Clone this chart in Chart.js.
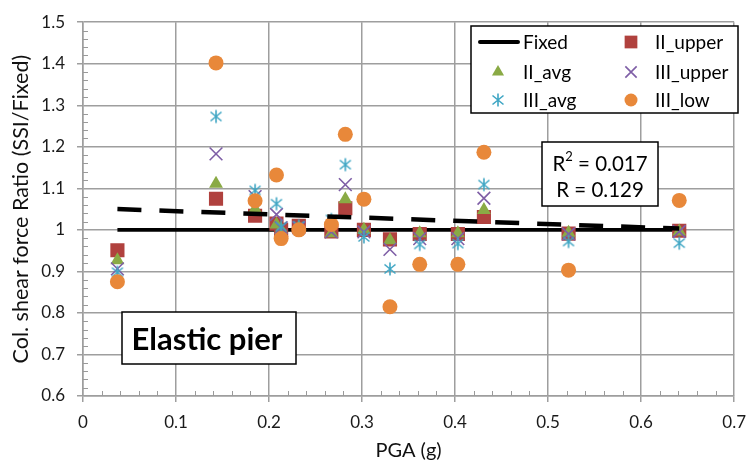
<!DOCTYPE html>
<html>
<head>
<meta charset="utf-8">
<script src="https://cdn.jsdelivr.net/npm/chart.js@4/dist/chart.umd.min.js"></script>
<style>
  html, body { margin: 0; padding: 0; background: #fff; }
</style>
</head>
<body>
<canvas id="ratio-chart" width="756" height="464"></canvas>
<script>
// PGA values (g) where the piers were analysed
const pga = [0.037, 0.143, 0.185, 0.208, 0.213, 0.232, 0.267, 0.282, 0.302, 0.330, 0.362, 0.403, 0.431, 0.522, 0.641];

// column shear force ratio SSI/Fixed per case
const iiUpper  = [0.951, 1.075, 1.034, 1.015, 1.000, 1.010, 0.996, 1.052, 1.000, 0.977, 0.990, 0.990, 1.031, 0.991, 0.998];
const iiAvg    = [0.927, 1.111, 1.050, 1.013, 1.000, 1.005, 0.992, 1.074, 1.000, 0.975, 0.992, 0.992, 1.048, 0.993, 0.996];
const iiiUpper = [0.906, 1.183, 1.080, 1.037, 1.005, 1.005, 0.995, 1.109, 0.995, 0.953, 0.979, 0.979, 1.076, 0.990, 0.996];
const iiiAvg   = [0.898, 1.273, 1.095, 1.063, 1.008, 1.010, 1.025, 1.157, 0.983, 0.906, 0.965, 0.967, 1.109, 0.972, 0.968];
const iiiLow   = [0.875, 1.402, 1.070, 1.132, 0.979, 1.000, 1.013, 1.230, 1.074, 0.815, 0.917, 0.917, 1.187, 0.903, 1.071];

// reference line and linear trend
const fixedX = [0.037, 0.641];
const fixedY = [1, 1];
const trendX = [0.037, 0.641];
const trendY = [1.050, 1.003];

const rText = ["0.017", "0.129"];

const FONT = "Lato, 'Open Sans', sans-serif";

function pts(xs, ys) {
  return xs.map((x, i) => ({ x: x, y: ys[i] }));
}

// Excel style asterisk marker (vertical bar + x)
function asteriskMarker(color) {
  const c = document.createElement("canvas");
  c.width = 16;
  c.height = 16;
  const g = c.getContext("2d");
  g.strokeStyle = color;
  g.lineWidth = 1.6;
  g.beginPath();
  g.moveTo(8, 1.5); g.lineTo(8, 14.5);
  g.moveTo(2.5, 3.5); g.lineTo(13.5, 12.5);
  g.moveTo(13.5, 3.5); g.lineTo(2.5, 12.5);
  g.stroke();
  return c;
}

const colUpper = "#B0413E";
const colAvg = "#8AAA45";
const colIIIUpper = "#7E5EA6";
const colIIIAvg = "#3FA6C4";
const colLow = "#E8883A";
const starImg = asteriskMarker(colIIIAvg);

const datasets = [
  {
    label: "Fixed",
    data: pts(fixedX, fixedY),
    showLine: true,
    borderColor: "#000",
    borderWidth: 3.8,
    pointRadius: 0,
    order: 7,
  },
  {
    label: "II_upper",
    data: pts(pga, iiUpper),
    pointStyle: "rect",
    pointRadius: 10,
    backgroundColor: colUpper,
    borderColor: colUpper,
    borderWidth: 0,
    order: 6,
  },
  {
    label: "II_avg",
    data: pts(pga, iiAvg),
    pointStyle: "triangle",
    pointRadius: 8,
    backgroundColor: colAvg,
    borderColor: colAvg,
    borderWidth: 0,
    order: 5,
  },
  {
    label: "III_upper",
    data: pts(pga, iiiUpper),
    pointStyle: "crossRot",
    pointRadius: 9,
    backgroundColor: colIIIUpper,
    borderColor: colIIIUpper,
    borderWidth: 1.6,
    order: 4,
  },
  {
    label: "III_avg",
    data: pts(pga, iiiAvg),
    pointStyle: starImg,
    pointRadius: 8,
    backgroundColor: colIIIAvg,
    borderColor: colIIIAvg,
    order: 3,
  },
  {
    label: "III_low",
    data: pts(pga, iiiLow),
    pointStyle: "circle",
    pointRadius: 7.5,
    backgroundColor: colLow,
    borderColor: colLow,
    borderWidth: 0,
    order: 2,
  },
  {
    label: "Trend",
    data: pts(trendX, trendY),
    showLine: true,
    borderColor: "#000",
    borderWidth: 4.5,
    borderDash: [24, 18],
    borderCapStyle: "butt",
    pointRadius: 0,
    order: 1,
  },
];

// small minor ticks every 0.02 on both axes
const minorTicks = {
  id: "minorTicks",
  beforeDatasetsDraw(chart) {
    const { ctx, scales: { x, y } } = chart;
    ctx.save();
    ctx.strokeStyle = "#9a9a9a";
    ctx.lineWidth = 1;
    ctx.beginPath();
    for (let i = 1; i < 35; i++) {
      if (i % 5 === 0) continue;
      const px = Math.round(x.getPixelForValue(i * 0.02)) + 0.5;
      ctx.moveTo(px, y.bottom);
      ctx.lineTo(px, y.bottom - 5);
    }
    for (let i = 1; i < 45; i++) {
      if (i % 5 === 0) continue;
      const py = Math.round(y.getPixelForValue(0.6 + i * 0.02)) + 0.5;
      ctx.moveTo(x.left, py);
      ctx.lineTo(x.left + 5, py);
    }
    ctx.stroke();
    ctx.restore();
  },
};

// legend box, R box and label box drawn inside the plot
const boxes = {
  id: "boxes",
  afterDraw(chart) {
    const ctx = chart.ctx;
    const h = Chart.helpers;
    ctx.save();

    // legend
    ctx.fillStyle = "#fff";
    ctx.fillRect(471, 26, 267, 87);
    ctx.strokeStyle = "#000";
    ctx.lineWidth = 1.5;
    ctx.strokeRect(471, 26, 267, 87);

    const items = [
      { ds: 0, x: 498, y: 42 },
      { ds: 2, x: 498, y: 72 },
      { ds: 4, x: 498, y: 100 },
      { ds: 1, x: 631, y: 42 },
      { ds: 3, x: 631, y: 72 },
      { ds: 5, x: 631, y: 100 },
    ];
    ctx.font = "19px " + FONT;
    ctx.textBaseline = "middle";
    ctx.textAlign = "left";
    items.forEach((it) => {
      const d = chart.data.datasets[it.ds];
      if (it.ds === 0) {
        ctx.strokeStyle = "#000";
        ctx.lineWidth = 4;
        ctx.lineCap = "round";
        ctx.beginPath();
        ctx.moveTo(480, it.y);
        ctx.lineTo(518, it.y);
        ctx.stroke();
        ctx.lineCap = "butt";
      } else {
        ctx.fillStyle = d.backgroundColor;
        ctx.strokeStyle = d.borderColor;
        ctx.lineWidth = d.borderWidth || 1.6;
        h.drawPoint(ctx, {
          pointStyle: d.pointStyle,
          radius: d.pointStyle === "crossRot" ? 8 : d.pointRadius - 1,
          rotation: 0,
          borderWidth: d.borderWidth || 0,
        }, it.x, it.y);
      }
      ctx.fillStyle = "#000";
      ctx.fillText(d.label, it.x === 498 ? 523 : 655, it.y + 1);
    });

    // R box
    ctx.fillStyle = "#fff";
    ctx.fillRect(542, 142, 116, 64);
    ctx.strokeStyle = "#000";
    ctx.lineWidth = 1.5;
    ctx.strokeRect(542, 142, 116, 64);
    ctx.fillStyle = "#000";
    ctx.font = "20.5px " + FONT;
    const rest = " = " + rText[0];
    const wR = ctx.measureText("R").width;
    const wRest = ctx.measureText(rest).width;
    ctx.font = "13px " + FONT;
    const w2 = ctx.measureText("2").width;
    let sx = 600 - (wR + w2 + wRest) / 2;
    ctx.font = "20.5px " + FONT;
    ctx.fillText("R", sx, 164);
    ctx.font = "13px " + FONT;
    ctx.fillText("2", sx + wR, 157);
    ctx.font = "20.5px " + FONT;
    ctx.fillText(rest, sx + wR + w2, 164);
    ctx.textAlign = "center";
    ctx.fillText("R = " + rText[1], 600, 190);

    // Elastic pier label
    ctx.fillStyle = "#fff";
    ctx.fillRect(122, 312, 174, 52);
    ctx.strokeStyle = "#000";
    ctx.lineWidth = 1.5;
    ctx.strokeRect(122, 312, 174, 52);
    ctx.fillStyle = "#000";
    ctx.font = "bold 31px " + FONT;
    ctx.fillText("Elastic pier", 207, 340);

    ctx.restore();
  },
};

const fmt = (v) => String(+v.toFixed(2));

const chartCanvas = document.getElementById("ratio-chart");

let ratioChart = new Chart(chartCanvas, {
  type: "scatter",
  data: { datasets: datasets },
  options: {
    responsive: false,
    animation: false,
    layout: { padding: { top: 19, right: 16, left: 0, bottom: 0 } },
    plugins: {
      legend: { display: false },
      tooltip: { enabled: false },
    },
    scales: {
      x: {
        type: "linear",
        min: 0,
        max: 0.7,
        afterFit: (s) => { s.height = 68; },
        ticks: {
          stepSize: 0.1,
          callback: fmt,
          color: "#1a1a1a",
          font: { family: FONT, size: 17 },
          padding: 10,
          maxRotation: 0,
        },
        grid: { color: "#9e9e9e", lineWidth: 1.5, tickLength: 6 },
        border: { color: "#9e9e9e", width: 1.5 },
        title: {
          display: true,
          text: "PGA (g)",
          color: "#111",
          font: { family: FONT, size: 20 },
          padding: { top: 0, bottom: 1 },
        },
      },
      y: {
        type: "linear",
        min: 0.6,
        max: 1.5,
        afterFit: (s) => { s.width = 83; },
        ticks: {
          stepSize: 0.1,
          callback: fmt,
          color: "#1a1a1a",
          font: { family: FONT, size: 17 },
          padding: 12,
        },
        grid: { color: "#9e9e9e", lineWidth: 1.5, tickLength: 6 },
        border: { color: "#9e9e9e", width: 1.5 },
        title: {
          display: true,
          text: "Col. shear force Ratio (SSI/Fixed)",
          color: "#111",
          font: { family: FONT, size: 21.5 },
          padding: { top: 8, bottom: 0 },
        },
      },
    },
  },
  plugins: [minorTicks, boxes],
});
</script>
</body>
</html>
